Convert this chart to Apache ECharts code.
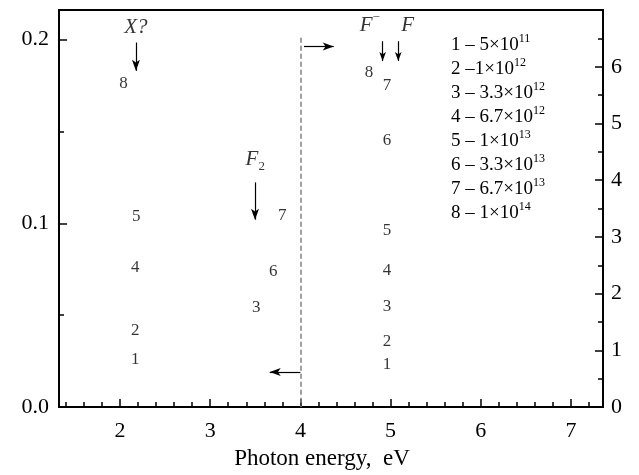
<!DOCTYPE html>
<html>
<head>
<meta charset="utf-8">
<script src="https://cdn.jsdelivr.net/npm/echarts@6/dist/echarts.min.js"></script>
<style>html,body{margin:0;padding:0;background:#fff}#c{width:639px;height:475px}</style>
</head>
<body>
<div id="c"></div>
<script>
// ---- data ----
var xTicks = [2, 3, 4, 5, 6, 7];
var xMinorTicks = [1.4, 1.6, 1.8, 2.2, 2.4, 2.6, 2.8, 3.2, 3.4, 3.6, 3.8, 4.2, 4.4, 4.6, 4.8, 5.2, 5.4, 5.6, 5.8, 6.2, 6.4, 6.6, 6.8, 7.2];
// group near X? (left axis)
var gXLabels = ['8', '5', '4', '2', '1'];
var gXx = [2.04, 2.18, 2.17, 2.17, 2.17];
var gXy = [0.1759, 0.1035, 0.0758, 0.0418, 0.0257];
// group near F2 (left axis)
var gF2Labels = ['7', '6', '3'];
var gF2x = [3.80, 3.70, 3.51];
var gF2y = [0.1044, 0.0740, 0.0543];
// group near F (right axis)
var gFLabels = ['8', '7', '6', '5', '4', '3', '2', '1'];
var gFx = [4.76, 4.96, 4.96, 4.96, 4.96, 4.96, 4.96, 4.96];
var gFy = [5.90, 5.66, 4.70, 3.12, 2.40, 1.78, 1.15, 0.75];
// legend: doses
var legNum = ['1', '2', '3', '4', '5', '6', '7', '8'];
var legSep = [' – ', ' –', ' – ', ' – ', ' – ', ' – ', ' – ', ' – '];
var legMant = ['5', '1', '3.3', '6.7', '1', '3.3', '6.7', '1'];
var legExp = ['11', '12', '12', '12', '13', '13', '13', '14'];

var SERIF = '"Liberation Serif","DejaVu Serif",serif';

function pts(xs, ys, ls) {
  return xs.map(function (x, i) { return [x, ys[i], ls[i]]; });
}
var digitLabel = {
  show: true, position: 'inside', formatter: function (p) { return p.value[2]; },
  color: '#000', fontFamily: SERIF, fontSize: 17
};
function arrow(x1, y1, x2, y2) {
  return [{ coord: [x1, y1] }, { coord: [x2, y2] }];
}

var legendText = legNum.map(function (n, i) {
  return '{b|' + n + legSep[i] + legMant[i] + '×10}{s|' + legExp[i] + '}';
}).join('\n');

var chart = echarts.init(document.getElementById('c'), null, { renderer: 'canvas' });
chart.setOption({
  animation: false,
  backgroundColor: '#fff',
  grid: { left: 59, right: 36, top: 10, bottom: 62, show: true, borderColor: '#000', borderWidth: 2, backgroundColor: 'transparent' },
  xAxis: [{
    type: 'value', min: 1.324, max: 7.355,
    name: 'Photon energy,  eV', nameLocation: 'middle', nameGap: 37,
    nameTextStyle: { fontFamily: SERIF, fontSize: 23, color: '#000', padding: [0, 18, 0, 0] },
    axisLine: { lineStyle: { color: '#000', width: 2 } },
    axisTick: { inside: true, length: 8, customValues: xTicks, lineStyle: { color: '#000', width: 1.5 } },
    axisLabel: { customValues: xTicks, fontFamily: SERIF, fontSize: 22, color: '#000', margin: 13 },
    splitLine: { show: false }
  }, {
    type: 'value', min: 1.324, max: 7.355, position: 'bottom',
    axisLine: { show: false },
    axisTick: { inside: true, length: 5, customValues: xMinorTicks, lineStyle: { color: '#000', width: 1.5 } },
    axisLabel: { show: false },
    splitLine: { show: false }
  }],
  yAxis: [{
    type: 'value', min: 0, max: 0.2161, interval: 0.1, position: 'left',
    axisLine: { show: true, lineStyle: { color: '#000', width: 2 } },
    axisTick: { inside: true, length: 8, lineStyle: { color: '#000', width: 1.5 } },
    minorTick: { show: true, splitNumber: 2, length: 5, lineStyle: { color: '#000', width: 1.5 } },
    axisLabel: { showMaxLabel: false, formatter: function (v) { return v.toFixed(1); }, fontFamily: SERIF, fontSize: 22, color: '#000', margin: 10 },
    splitLine: { show: false }, minorSplitLine: { show: false }
  }, {
    type: 'value', min: 0, max: 7, interval: 1, position: 'right',
    axisLine: { show: true, lineStyle: { color: '#000', width: 2 } },
    axisTick: { inside: true, length: 8, lineStyle: { color: '#000', width: 1.5 } },
    minorTick: { show: true, splitNumber: 2, length: 5, lineStyle: { color: '#000', width: 1.5 } },
    axisLabel: { showMaxLabel: false, fontFamily: SERIF, fontSize: 22, color: '#000', margin: 8 },
    splitLine: { show: false }, minorSplitLine: { show: false }
  }],
  graphic: [{
    type: 'text', left: 451, top: 33,
    style: {
      text: legendText,
      rich: {
        b: { fontFamily: SERIF, fontSize: 19, color: '#000', lineHeight: 24, verticalAlign: 'middle' },
        s: { fontFamily: SERIF, fontSize: 12, color: '#000', lineHeight: 24, verticalAlign: 'top' }
      }
    }
  }],
  series: [{
    name: 'groupX', type: 'scatter', xAxisIndex: 0, yAxisIndex: 0, symbolSize: 0,
    data: pts(gXx, gXy, gXLabels), label: digitLabel, silent: true,
    markLine: {
      silent: true, symbol: ['none', 'arrow'], symbolSize: [6, 11], label: { show: false },
      lineStyle: { color: '#000', width: 1.2, type: 'solid' },
      data: [
        arrow(2.177, 0.1984, 2.177, 0.1830),  // X? arrow
        arrow(3.497, 0.1223, 3.497, 0.1020),  // F2 arrow
        arrow(4.04, 0.1962, 4.37, 0.1962),    // -> right axis
        arrow(4.00, 0.0191, 3.66, 0.0191)     // <- left axis
      ]
    }
  }, {
    name: 'groupF2', type: 'scatter', xAxisIndex: 0, yAxisIndex: 0, symbolSize: 0,
    data: pts(gF2x, gF2y, gF2Labels), label: digitLabel, silent: true,
    markLine: {
      silent: true, symbol: ['none', 'none'], label: { show: false },
      lineStyle: { color: '#808080', width: 1.5, type: [5, 3] },
      data: [arrow(4.0, 0.201, 4.0, 0)]
    }
  }, {
    name: 'groupF', type: 'scatter', xAxisIndex: 0, yAxisIndex: 1, symbolSize: 0,
    data: pts(gFx, gFy, gFLabels), label: digitLabel, silent: true,
    markLine: {
      silent: true, symbol: ['none', 'arrow'], symbolSize: [5, 9], label: { show: false },
      lineStyle: { color: '#000', width: 1.2, type: 'solid' },
      data: [
        arrow(4.912, 6.45, 4.912, 6.10),
        arrow(5.085, 6.45, 5.085, 6.10)
      ]
    }
  }, {
    name: 'annotations', type: 'scatter', xAxisIndex: 0, yAxisIndex: 1, symbolSize: 0, silent: true,
    data: [
      { value: [2.177, 6.70], label: { formatter: '{i|X?}' } },
      { value: [3.50, 4.37], label: { formatter: '{i|F}{sub|2}' } },
      { value: [4.77, 6.73], label: { formatter: '{i|F}{sup|−}' } },
      { value: [5.19, 6.73], label: { formatter: '{i|F}' } }
    ],
    label: {
      show: true, position: 'inside', color: '#000',
      rich: {
        i: { fontFamily: SERIF, fontStyle: 'italic', fontSize: 21, color: '#000', lineHeight: 28, verticalAlign: 'middle' },
        sub: { fontFamily: SERIF, fontSize: 13, color: '#000', lineHeight: 28, verticalAlign: 'bottom' },
        sup: { fontFamily: SERIF, fontSize: 13, color: '#000', lineHeight: 28, verticalAlign: 'top' }
      }
    }
  }]
});
</script>
</body>
</html>
